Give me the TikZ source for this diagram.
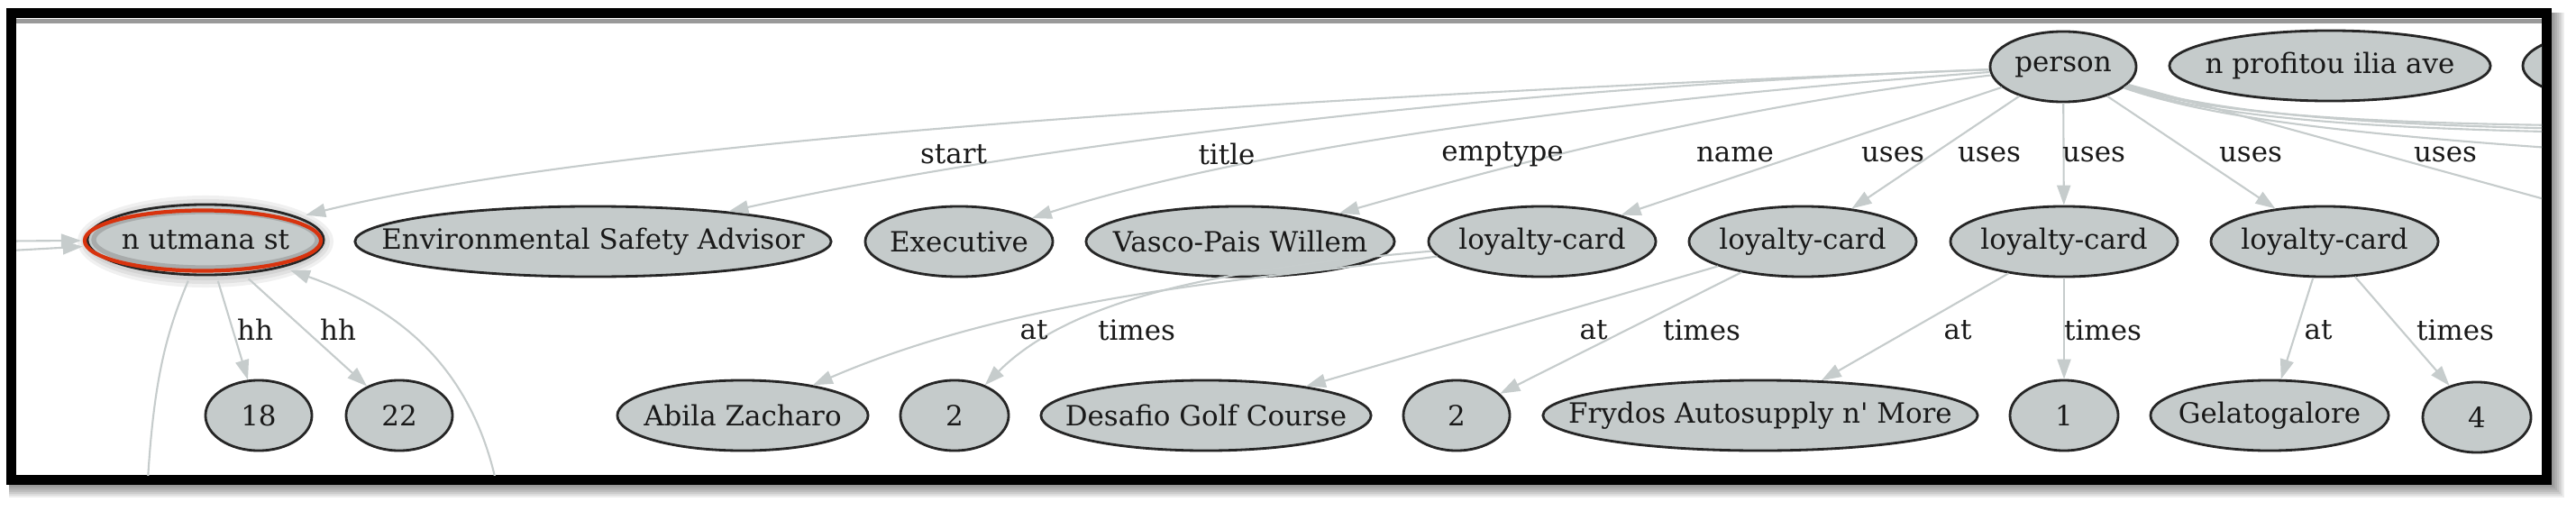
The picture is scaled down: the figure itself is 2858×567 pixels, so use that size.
\documentclass[tikz,border=0pt]{standalone}
\usepackage{fontspec}
\setmainfont{DejaVu Serif}[Ligatures=TeXOff]
\usetikzlibrary{shapes.geometric, arrows.meta}

\definecolor{cardfill}{HTML}{C5CBCB}
\definecolor{linkgray}{HTML}{C6CCCC}
\definecolor{hilite}{HTML}{D8330E}

\tikzset{
  gnode/.style={ellipse, draw=black!85, line width=0.8pt, fill=cardfill,
    minimum height=0.78cm, inner sep=0pt, text=black!90,
    font=\fontsize{8.8}{10}\selectfont,
    execute at begin node={\setbox0=\hbox\bgroup},
    execute at end node={\egroup\hbox to 0pt{\hss\box0\hss}}},
  elabel/.style={inner sep=0pt, text=black!90, font=\fontsize{8.8}{10}\selectfont},
  link/.style={draw=linkgray, line width=0.6pt,
    >={Triangle[length=0.22cm, width=0.15cm]}},
}

\begin{document}
\begin{tikzpicture}[x=0.01cm, y=-0.01cm]
  \useasboundingbox (0,0) rectangle (2858,567);
  % shadow and frame
  \foreach \m in {0,2,...,12}
    \fill[black, opacity=0.07] (10,14) rectangle ({2833+\m},{540+\m});
  \draw[line width=0.11cm, fill=white] (12.5,14.5) rectangle (2825.5,532.5);
  \draw[black!40, line width=0.05cm] (18,23.5) -- (2820,23.5);

  \begin{scope}
    \clip (18,26) rectangle (2820,527);
    % glow round the selected node
    \foreach \m in {4,8,12}
      \fill[black, opacity=0.06] (228,268) ellipse [x radius={1.30cm+\m*0.01cm}, y radius={0.39cm+\m*0.01cm}];
    \begin{scope}[every node/.style={gnode}]
      \node (person) [minimum width=1.62cm] at (2289, 74) {person};
      \node (nprof) [minimum width=3.56cm] at (2585, 73) {n profitou ilia ave};
      \node (nnext) [minimum width=2.2cm] at (2909, 73) {};

      \node (nutmana) [minimum width=2.62cm, outer sep=2pt] at (228, 266) {n utmana st};
      \node (envsafe) [minimum width=5.28cm] at (658, 268) {Environmental Safety Advisor};
      \node (exec) [minimum width=2.08cm] at (1064, 268) {Executive};
      \node (vasco) [minimum width=3.42cm] at (1376, 268) {Vasco-Pais Willem};
      \node (lc1) [minimum width=2.52cm] at (1711, 268) {loyalty-card};
      \node (lc2) [minimum width=2.52cm] at (2000, 268) {loyalty-card};
      \node (lc3) [minimum width=2.52cm] at (2290, 268) {loyalty-card};
      \node (lc4) [minimum width=2.52cm] at (2579, 268) {loyalty-card};

      \node (n18) [minimum width=1.18cm] at (287, 461) {18};
      \node (n22) [minimum width=1.18cm] at (443, 461) {22};
      \node (abila) [minimum width=2.78cm] at (824, 461) {Abila Zacharo};
      \node (twoa) [minimum width=1.2cm] at (1059, 461) {2};
      \node (desafio) [minimum width=3.66cm] at (1338, 461) {Desafio Golf Course};
      \node (twob) [minimum width=1.18cm] at (1616, 461) {2};
      \node (frydos) [minimum width=4.82cm] at (1953, 461) {Frydos Autosupply n' More};
      \node (one) [minimum width=1.2cm] at (2290, 461) {1};
      \node (gelato) [minimum width=2.64cm] at (2518, 461) {Gelatogalore};
      \node (four) [minimum width=1.2cm] at (2748, 463) {4};
    \end{scope}
    % selected node
    \draw[black!45, line width=1.5pt, opacity=0.5] (nutmana.center) ellipse [x radius=1.24cm, y radius=0.31cm];
    \draw[hilite, line width=1.2pt] ([shift={(-3,1)}]nutmana.center) ellipse [x radius=1.31cm, y radius=0.335cm];

    % ends outside the frame
    \coordinate (westA) at (-60, 268);
    \coordinate (westB) at (-60, 282);
    \coordinate (southA) at (160, 640);
    \coordinate (southB) at (561, 640);
    \coordinate (eastA) at (2950, 140);
    \coordinate (eastB) at (2950, 144);
    \coordinate (eastC) at (2950, 148);
    \coordinate (eastD) at (2950, 172);
    \coordinate (eastU) at (2950, 256);

    \begin{scope}[link]
      \draw[->] (person) .. controls (1500,105) and (700,150) .. (nutmana);
      \draw[->] (person) .. controls (1600,100) and (1100,170) .. (envsafe);
      \draw[->] (person) .. controls (1800,110) and (1400,160) .. (exec);
      \draw[->] (person) .. controls (1900,120) and (1650,190) .. (vasco);
      \path[->] (person) edge (lc1);
      \path[->] (person) edge (lc2);
      \path[->] (person) edge (lc3);
      \path[->] (person) edge (lc4);
      \path[->] (person) edge (eastU);
      \draw[->] (person) .. controls (2450,125) and (2600,138) .. (eastA);
      \draw[->] (person) .. controls (2450,122) and (2600,141) .. (eastB);
      \draw[->] (person) .. controls (2450,128) and (2600,144) .. (eastC);
      \draw[->] (person) .. controls (2450,130) and (2600,150) .. (eastD);

      \path[->] (westA) edge (nutmana);
      \path[->] (westB) edge (nutmana);
      \draw[->] (nutmana) .. controls (180,380) and (165,440) .. (southA);
      \draw[->] (southB) .. controls (561,400) and (420,335) .. (nutmana);
      \path[->] (nutmana) edge (n18);
      \path[->] (nutmana) edge (n22);

      \draw[->] (lc1) .. controls (1450,305) and (1150,320) .. (abila);
      \draw[->] (lc1) .. controls (1400,295) and (1200,320) .. (twoa);
      \path[->] (lc2) edge (desafio);
      \path[->] (lc2) edge (twob);
      \path[->] (lc3) edge (frydos);
      \path[->] (lc3) edge (one);
      \path[->] (lc4) edge (gelato);
      \path[->] (lc4) edge (four);
    \end{scope}

    % edge labels
    \begin{scope}[every node/.style={elabel}]
      \node (lstart) at (1058, 171) {start};
      \node (ltitle) at (1361, 171) {title};
      \node (lemp) at (1667, 171) {emptype};
      \node (lname) at (1925, 171) {name};
      \node (luses1) at (2100, 171) {uses};
      \node (luses2) at (2207, 171) {uses};
      \node (luses3) at (2323, 171) {uses};
      \node (luses4) at (2497, 171) {uses};
      \node (luses5) at (2713, 171) {uses};
      \node (lhh1) at (283, 366) {hh};
      \node (lhh2) at (375, 366) {hh};
      \node (lat1) at (1147, 366) {at};
      \node (ltimes1) at (1261, 366) {times};
      \node (lat2) at (1768, 366) {at};
      \node (ltimes2) at (1888, 366) {times};
      \node (lat3) at (2172, 366) {at};
      \node (ltimes3) at (2333, 366) {times};
      \node (lat4) at (2572, 366) {at};
      \node (ltimes4) at (2724, 366) {times};
    \end{scope}
  \end{scope}
\end{tikzpicture}
\end{document}
